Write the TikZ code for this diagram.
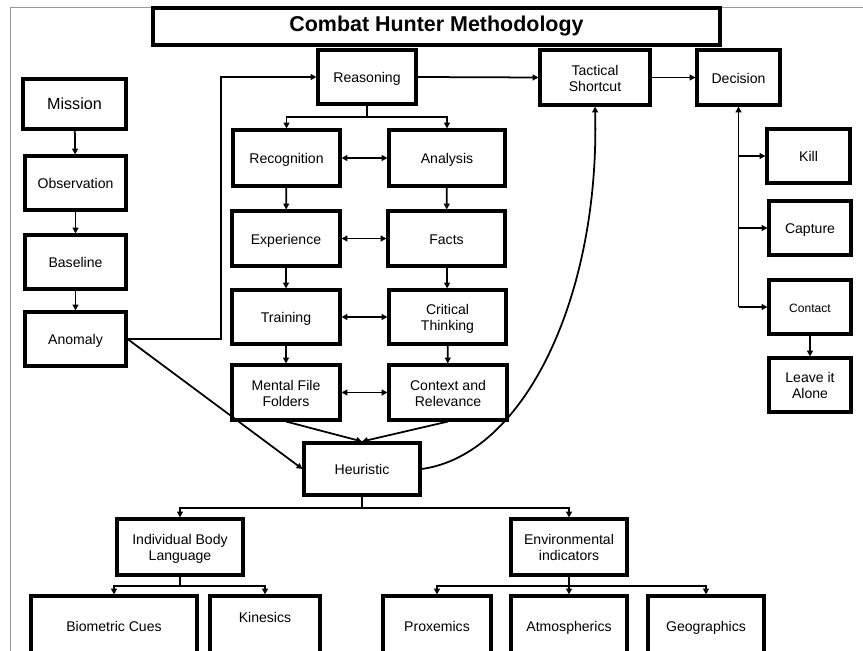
\documentclass[tikz,border=0pt]{standalone}
\usepackage{fontspec}
\setmainfont{Liberation Sans}
\usetikzlibrary{arrows.meta}
\newcommand\fs{\fontsize{12}{13.7}\selectfont}
\newcommand\topstrut{\vrule width0pt height 13pt depth 0pt}
\newcommand\botstrut{\vrule width0pt height 0pt depth 3pt}
\newcommand\two[2]{\smash{\begin{tabular}{@{}c@{}}#1\\#2\end{tabular}}}
\newcommand\bx[7][]{%
  \node[box,#1,minimum width={(#4-#2)*0.03cm},minimum height={(#5-#3)*0.03cm}] (#7) at ({(#2+#4)/2},{(#3+#5)/2}) {#6};}
\begin{document}
\begin{tikzpicture}[x=0.03cm,y=-0.03cm,
  box/.style={draw,line width=2.6pt,inner sep=2pt,align=center,font=\fs,
    execute at begin node=\topstrut, execute at end node=\botstrut},
  conn/.style={line width=1.5pt,-{Triangle[length=5pt,width=5pt]}},
  both/.style={line width=1.5pt,{Triangle[length=5pt,width=5pt]}-{Triangle[length=5pt,width=5pt]}},
  frame/.style={draw=black!40,line width=0.8pt}]
\useasboundingbox (0,0) rectangle (863,651);
\clip (0,0) rectangle (863,651);
\draw[frame] (10,652) -- (10,7) -- (864,7);
% title
\bx[font=\fontsize{18.3}{22}\selectfont\bfseries,execute at begin node={},execute at end node={}]{153}{8}{720}{45}{Combat Hunter Methodology}{title}
% left column
\bx[font=\fontsize{13.8}{16}\selectfont]{23}{79}{126}{129}{Mission}{miss}
\bx{25}{156}{126}{210}{Observation}{obs}
\bx{25}{235}{126}{289}{Baseline}{base}
\bx{25}{312}{126}{366}{Anomaly}{anom}
% top row
\bx{318}{50}{416}{104}{Reasoning}{reas}
\bx{540}{50}{650}{105}{\two{Tactical}{Shortcut}}{tact}
\bx{697}{50}{780}{105}{Decision}{dec}
% middle grid
\bx{233}{130}{340}{186}{Recognition}{recog}
\bx{389}{130}{505}{186}{Analysis}{anal}
\bx{232}{211}{340}{266}{Experience}{exper}
\bx{388}{211}{505}{266}{Facts}{facts}
\bx{232}{290}{340}{344}{Training}{train}
\bx{389}{290}{506}{344}{\two{Critical}{Thinking}}{crit}
\bx{232}{365}{340}{420}{\two{Mental File}{Folders}}{mental}
\bx{389}{365}{507}{420}{\two{Context and}{Relevance}}{context}
\bx{304}{443}{420}{495}{Heuristic}{heur}
% right column
\bx{767}{129}{850}{183}{Kill}{kill}
\bx{769}{201}{851}{255}{Capture}{capt}
\bx[font=\fontsize{10.3}{12}\selectfont]{769}{280}{851}{334}{Contact}{cont}
\bx{769}{358}{851}{412}{\two{Leave it}{Alone}}{leave}
% bottom
\bx{117}{519}{243}{575}{\two{Individual Body}{Language}}{ibl}
\bx{511}{519}{627}{575}{\two{Environmental}{indicators}}{env}
\bx{31}{596}{197}{656}{Biometric Cues}{bio}
\node[box,minimum width={110*0.03cm},minimum height={60*0.03cm},
  execute at begin node={},execute at end node={},
  label={[font=\fs,yshift=7.5pt]center:Kinesics}] (kin) at (265,626) {};
\bx{383}{596}{491}{656}{Proxemics}{prox}
\bx{511}{596}{627}{656}{Atmospherics}{atmo}
\bx{648}{596}{764}{656}{Geographics}{geo}
% connectors: left column
\draw[conn] (miss) -- (obs);
\draw[conn] (obs) -- (base);
\draw[conn] (base) -- (anom);
\coordinate (k1) at (221,0);
\draw[conn] (anom.east) -- (anom.east -| k1) -- (k1 |- reas.west) -- (reas.west);
\draw[conn] (anom.east) -- (heur.west);
% reasoning branch
\coordinate (k2) at (0,117);
\draw[conn] (reas.south) -- (reas.south |- k2) -| (recog.north);
\draw[conn] (reas.south) -- (reas.south |- k2) -| (anal.north);
\draw[conn] (reas.east) -- (tact.west);
\draw[conn] (tact.east) -- (dec.west);
% grid
\draw[both] (recog) -- (anal);
\draw[both] (exper) -- (facts);
\draw[both] (train) -- (crit);
\draw[both] (mental) -- (context);
\draw[conn] (recog) -- (exper);
\draw[conn] (exper) -- (train);
\draw[conn] (train) -- (mental);
\draw[conn] (anal) -- (facts);
\draw[conn] (facts) -- (crit);
\draw[conn] (crit) -- (context);
\draw[conn] (mental.south) -- (heur.north);
\draw[conn] (context.south) -- (heur.north);
% heuristic to tactical shortcut
\draw[conn] (heur.east) .. controls (525,455) and (600,295) .. (tact.south);
% decision branch
\coordinate (k3) at (0,307);
\draw[conn] (dec.south |- k3) -- (dec.south);
\draw[conn] (dec.south |- kill.west) -- (kill.west);
\draw[conn] (dec.south |- capt.west) -- (capt.west);
\draw[conn] (dec.south |- cont.west) -- (cont.west);
\draw[conn] (cont) -- (leave);
% heuristic tree
\coordinate (k4) at (0,508);
\draw[conn] (heur.south) -- (heur.south |- k4) -| (ibl.north);
\draw[conn] (heur.south) -- (heur.south |- k4) -| (env.north);
\coordinate (k5) at (0,586);
\draw[conn] (ibl.south) -- (ibl.south |- k5) -| (bio.north);
\draw[conn] (ibl.south) -- (ibl.south |- k5) -| (kin.north);
\draw[conn] (env.south) -- (env.south |- k5) -| (prox.north);
\draw[conn] (env.south) -- (atmo.north);
\draw[conn] (env.south) -- (env.south |- k5) -| (geo.north);
\end{tikzpicture}
\end{document}
